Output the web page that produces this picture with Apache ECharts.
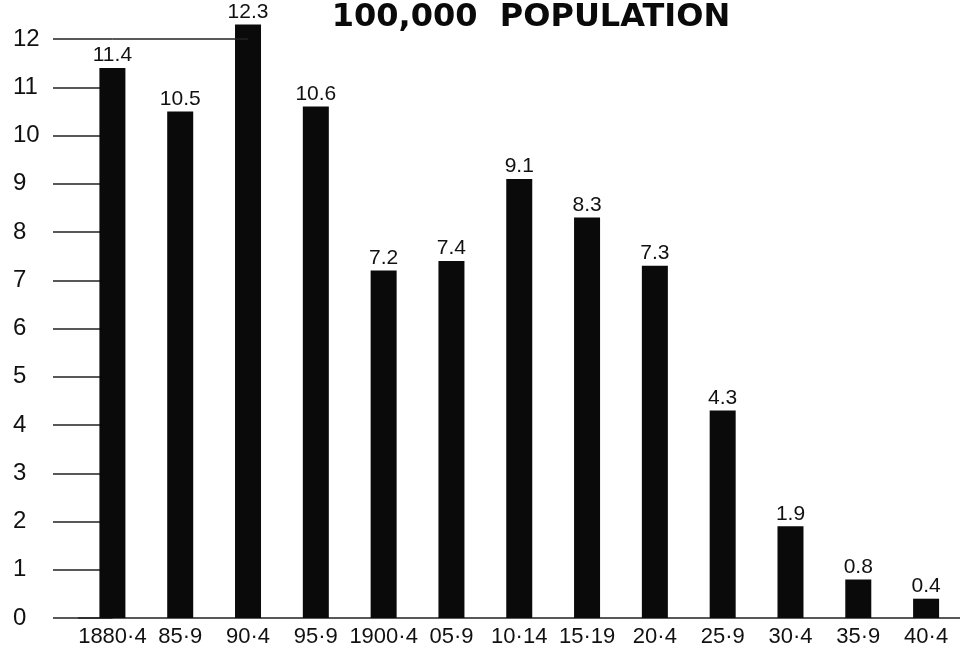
<!DOCTYPE html>
<html>
<head>
<meta charset="utf-8">
<script src="https://cdn.jsdelivr.net/npm/echarts@6/dist/echarts.min.js"></script>
<style>html,body{margin:0;padding:0;background:#fff;}#c{width:960px;height:649px;}</style>
</head>
<body>
<div id="c"></div>
<script>
var categories = ['1880·4', '85·9', '90·4', '95·9', '1900·4', '05·9', '10·14', '15·19', '20·4', '25·9', '30·4', '35·9', '40·4'];
var values = [11.4, 10.5, 12.3, 10.6, 7.2, 7.4, 9.1, 8.3, 7.3, 4.3, 1.9, 0.8, 0.4];
var titleText = '100,000  POPULATION';

var chart = echarts.init(document.getElementById('c'));
chart.setOption({
  backgroundColor: '#ffffff',
  animation: false,
  title: {
    text: titleText,
    left: 526,
    top: -3,
    textAlign: 'center',
    textStyle: { fontFamily: 'DejaVu Sans', fontWeight: 'bold', fontSize: 32, color: '#0a0a0a' }
  },
  grid: { left: 78.5, right: -1.5, top: 39, bottom: 31, containLabel: false },
  xAxis: {
    type: 'category',
    data: categories,
    boundaryGap: true,
    axisLine: { show: true, lineStyle: { color: '#222', width: 1.5 } },
    axisTick: { show: false },
    axisLabel: { margin: 8, fontFamily: 'Liberation Sans', fontSize: 22, color: '#111', interval: 0 }
  },
  yAxis: {
    type: 'value',
    min: 0,
    max: 12,
    interval: 1,
    offset: -34,
    splitLine: { show: false },
    axisLine: { show: false },
    axisTick: { show: true, length: 59.5, lineStyle: { color: '#222', width: 1.5 } },
    axisLabel: { align: 'left', margin: 99.5, fontFamily: 'Liberation Sans', fontSize: 24, color: '#111' }
  },
  series: [{
    type: 'bar',
    data: values,
    barWidth: 26,
    clip: false,
    itemStyle: { color: '#0a0a0a' },
    label: {
      show: true,
      position: 'top',
      distance: 2,
      fontFamily: 'Liberation Sans',
      fontSize: 21,
      color: '#111'
    },
    markLine: {
      silent: true,
      symbol: 'none',
      label: { show: false },
      lineStyle: { color: '#222', width: 1.5, type: 'solid' },
      data: [[{ coord: [0, 12] }, { coord: [2, 12] }]]
    }
  }]
});
</script>
</body>
</html>
